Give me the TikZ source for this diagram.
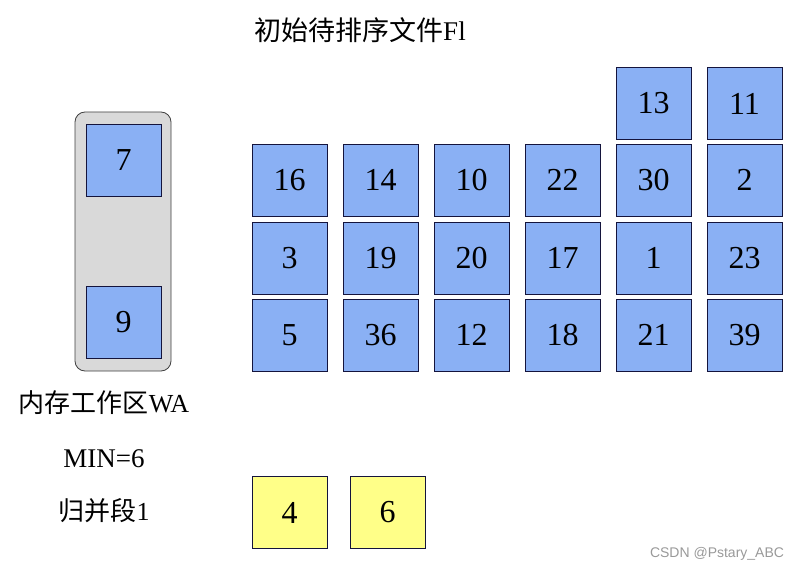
\documentclass[tikz,border=0pt]{standalone}
\usepackage{fontspec}
\setmainfont{Liberation Serif}
\newfontfamily\cjk{Noto Sans CJK SC}
\newfontfamily\marksans{Liberation Sans}
\usepackage{tikz}

\definecolor{cellblue}{RGB}{138,176,244}
\definecolor{cellyellow}{RGB}{255,255,136}
\definecolor{panelgray}{RGB}{217,217,217}
\definecolor{cellline}{RGB}{20,20,60}

\begin{document}
\begin{tikzpicture}[x=1pt,y=-1pt,
  cell/.style={draw=cellline, line width=0.8pt, fill=cellblue, minimum width=75pt, minimum height=72pt, inner sep=0pt, font=\fontsize{32}{36}\selectfont},
  runcell/.style={cell, fill=cellyellow},
  lbl/.style={inner sep=0pt, font=\fontsize{26}{30}\selectfont}]

\useasboundingbox (0,0) rectangle (802,572);

\node[lbl, font=\fontsize{27}{30}\selectfont] (title) at (360,30) {{\cjk 初始待排序文件}Fl};

\draw [draw=darkgray, fill=panelgray, line width=0.8pt, rounded corners=10pt] (75,112) rectangle (171,371);
\node[cell] (wa1) at (123.5,160.5) {7};
\node[cell] (wa2) at (123.5,322.5) {9};

\node[cell] (f05) at (653.5,103.5) {13};
\node[cell] (f06) at (744.5,103.5) {11};

\node[cell] (f11) at (289.5,180) {16};
\node[cell] (f12) at (380.5,180) {14};
\node[cell] (f13) at (471.5,180) {10};
\node[cell] (f14) at (562.5,180) {22};
\node[cell] (f15) at (653.5,180) {30};
\node[cell] (f16) at (744.5,180) {2};

\node[cell] (f21) at (289.5,258) {3};
\node[cell] (f22) at (380.5,258) {19};
\node[cell] (f23) at (471.5,258) {20};
\node[cell] (f24) at (562.5,258) {17};
\node[cell] (f25) at (653.5,258) {1};
\node[cell] (f26) at (744.5,258) {23};

\node[cell] (f31) at (289.5,335) {5};
\node[cell] (f32) at (380.5,335) {36};
\node[cell] (f33) at (471.5,335) {12};
\node[cell] (f34) at (562.5,335) {18};
\node[cell] (f35) at (653.5,335) {21};
\node[cell] (f36) at (744.5,335) {39};

\node[lbl] (walabel) at (104,403) {{\cjk 内存工作区}WA};
\node[lbl, font=\fontsize{27}{30}\selectfont] (minlabel) at (104,459) {MIN=6};
\node[lbl] (runlabel) at (104,511) {{\cjk 归并段}1};

\node[runcell] (r1) at (289.5,512.5) {4};
\node[runcell] (r2) at (387.5,512.5) {6};

\node[inner sep=0pt, text=gray!80, font=\marksans\fontsize{14}{16}\selectfont] (mark) at (717,554) {CSDN @Pstary\_ABC};

\end{tikzpicture}
\end{document}
